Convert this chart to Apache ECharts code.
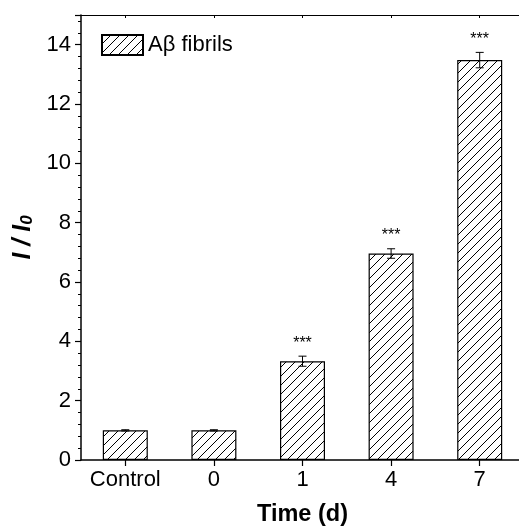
<!DOCTYPE html>
<html>
<head>
<meta charset="utf-8">
<script src="https://cdn.jsdelivr.net/npm/echarts@6/dist/echarts.min.js"></script>
<style>
  html, body { margin: 0; padding: 0; background: #fff; }
  #chart { width: 519px; height: 527px; }
</style>
</head>
<body>
<div id="chart"></div>
<script>
// Fluorescence ratio I/I0 over incubation time
const categories = ['Control', '0', '1', '4', '7'];
const values = [1.0, 1.0, 3.33, 6.96, 13.48];
const errors = [0.02, 0.02, 0.17, 0.16, 0.26];
const marks = ['', '', '***', '***', '***'];
const yTicks = [0, 2, 4, 6, 8, 10, 12, 14];
const seriesName = 'Aβ fibrils';

const FONT = '"Liberation Sans", Arial, sans-serif';

// Diagonal hatch fill
function hatch() {
  const s = 9;
  const c = document.createElement('canvas');
  c.width = s; c.height = s;
  const g = c.getContext('2d');
  g.fillStyle = '#fff';
  g.fillRect(0, 0, s, s);
  g.strokeStyle = '#000';
  g.lineWidth = 1;
  g.beginPath();
  g.moveTo(-1, s + 1); g.lineTo(s + 1, -1);
  g.moveTo(-1, 1); g.lineTo(1, -1);
  g.moveTo(s - 1, s + 1); g.lineTo(s + 1, s - 1);
  g.stroke();
  return c;
}
const pattern = { image: hatch(), repeat: 'repeat' };

const chart = echarts.init(document.getElementById('chart'), null, { renderer: 'canvas' });

const option = {
  animation: false,
  backgroundColor: '#fff',
  grid: { left: 81, top: 15, width: 443, height: 445, containLabel: false, outerBoundsMode: 'none' },
  legend: {
    left: 101, top: 34, padding: 0,
    itemWidth: 41, itemHeight: 20, itemGap: 5,
    icon: 'rect',
    textStyle: { fontFamily: FONT, fontSize: 22, color: '#000', padding: [0, 0, 0, 0] },
    data: [{ name: seriesName }]
  },
  xAxis: [{
    type: 'category',
    data: categories,
    position: 'bottom',
    axisLine: { lineStyle: { color: '#000', width: 1.5 } },
    axisTick: { show: true, alignWithLabel: true, inside: false, length: 6, lineStyle: { color: '#000', width: 1.2 } },
    axisLabel: { interval: 0, fontFamily: FONT, fontSize: 22, color: '#000', margin: 9 },
    name: 'Time (d)',
    nameLocation: 'middle',
    nameGap: 43,
    nameTextStyle: { fontFamily: FONT, fontSize: 23.5, fontWeight: 'bold', color: '#000' }
  }, {
    type: 'category',
    data: categories,
    position: 'top',
    axisLine: { lineStyle: { color: '#000', width: 1.2 } },
    axisTick: { show: true, alignWithLabel: true, inside: true, length: 3, lineStyle: { color: '#000' } },
    axisLabel: { show: false }
  }],
  yAxis: [{
    type: 'value',
    min: 0, max: 15, interval: 2,
    axisLine: { show: true, lineStyle: { color: '#000', width: 1.5 } },
    axisTick: { show: true, inside: false, length: 6, lineStyle: { color: '#000', width: 1.2 } },
    minorTick: { show: true, splitNumber: 5, length: 3, lineStyle: { color: '#000', width: 1 } },
    splitLine: { show: false },
    axisLabel: {
      fontFamily: FONT, fontSize: 22, color: '#000', margin: 10,
      formatter: v => yTicks.includes(v) ? String(v) : ''
    },
    name: '{a|I / I}{b|0}',
    nameLocation: 'middle',
    nameRotate: 90,
    nameGap: 45,
    nameTextStyle: {
      rich: {
        a: { fontFamily: FONT, fontSize: 25, fontWeight: 'bold', fontStyle: 'italic', color: '#000', verticalAlign: 'bottom', lineHeight: 28 },
        b: { fontFamily: FONT, fontSize: 17, fontWeight: 'bold', fontStyle: 'italic', color: '#000', verticalAlign: 'bottom', lineHeight: 20 }
      }
    }
  }],
  series: [{
    name: seriesName,
    type: 'bar',
    data: values,
    barWidth: 45,
    itemStyle: { color: pattern, borderColor: '#000', borderWidth: 1.2 },
    z: 2
  }, {
    name: 'err',
    type: 'custom',
    data: values.map((v, i) => [i, v, errors[i]]),
    z: 3,
    renderItem: function (params, api) {
      const i = api.value(0), v = api.value(1), e = api.value(2);
      const mark = marks[i];
      const top = api.coord([i, v + e]);
      const bot = api.coord([i, v - e]);
      const cap = 4;
      const children = [
        { type: 'line', shape: { x1: top[0], y1: top[1], x2: bot[0], y2: bot[1] }, style: { stroke: '#000', lineWidth: 1 } },
        { type: 'line', shape: { x1: top[0] - cap, y1: top[1], x2: top[0] + cap, y2: top[1] }, style: { stroke: '#000', lineWidth: 1 } },
        { type: 'line', shape: { x1: bot[0] - cap, y1: bot[1], x2: bot[0] + cap, y2: bot[1] }, style: { stroke: '#000', lineWidth: 1 } }
      ];
      if (mark) {
        children.push({
          type: 'text',
          style: {
            text: mark, x: top[0], y: top[1] - 21,
            align: 'center', verticalAlign: 'top',
            font: '16px ' + FONT, fill: '#000'
          }
        });
      }
      return { type: 'group', children: children };
    }
  }]
};

chart.setOption(option);
</script>
</body>
</html>
